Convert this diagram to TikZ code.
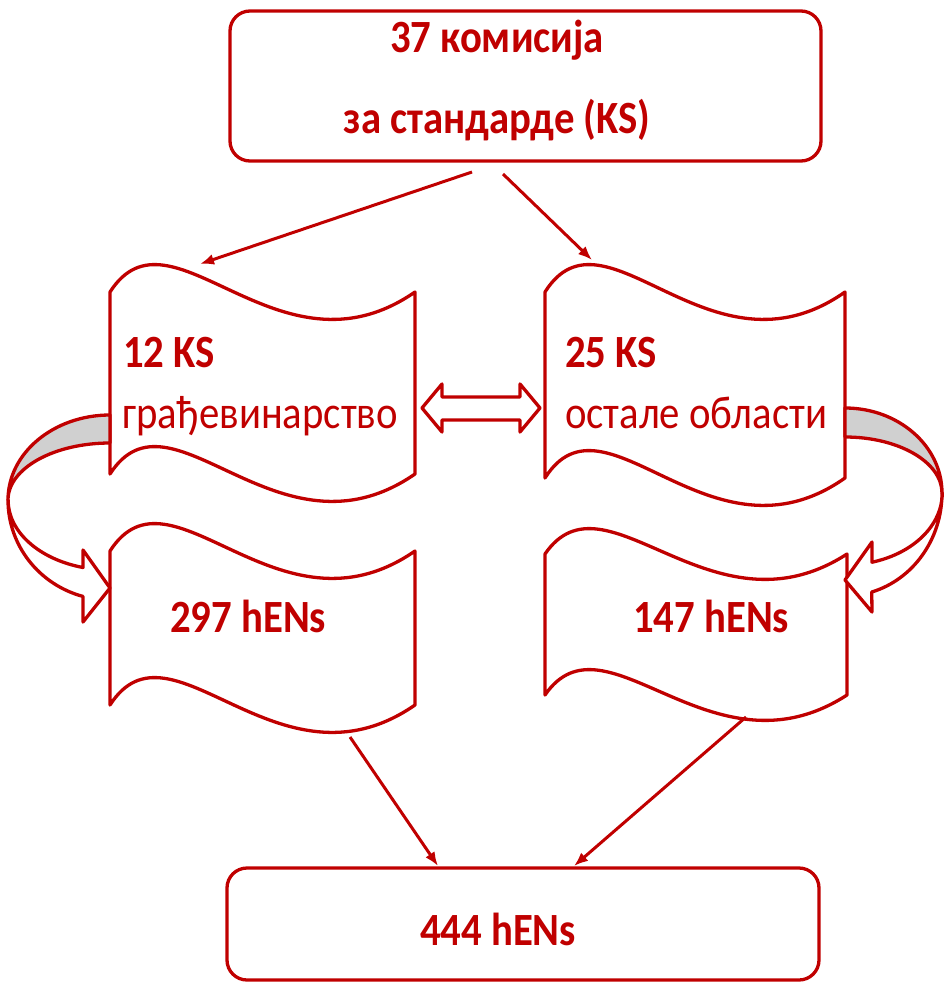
\documentclass[tikz,border=0pt]{standalone}
\usepackage{fontspec}
\setmainfont{Carlito}
\usetikzlibrary{arrows.meta}
\definecolor{dred}{RGB}{192,0,0}
\definecolor{bandgray}{RGB}{208,208,208}
\newcommand\wavepath[5]{%
  \draw[shapeline, fill=white] (#1,#3)
    .. controls ({#1+0.2*(#2-#1)},{#3-#5}) and ({#1+0.55*(#2-#1)},{#3+#5}) .. (#2,#3)
    -- (#2,#4)
    .. controls ({#1+0.55*(#2-#1)},{#4+#5}) and ({#1+0.2*(#2-#1)},{#4-#5}) .. (#1,#4)
    -- cycle;}
\newcommand\tallt[1]{\scalebox{0.97}[1.1]{#1}}
\begin{document}
\begin{tikzpicture}[x=1pt,y=-1pt,
  shapeline/.style={draw=dred, line width=3.3pt, line join=round},
  conn/.style={draw=dred, line width=3pt, -{Latex[length=14pt,width=11pt]}},
  lblb/.style={text=dred, font=\fontsize{42}{50}\selectfont\bfseries, inner sep=0pt},
  lblr/.style={text=dred, font=\fontsize{42}{50}\selectfont, inner sep=0pt},
  boxstyle/.style={shapeline, rounded corners=20pt, inner sep=0pt, fill=white}]
\useasboundingbox (0,0) rectangle (945,983);

% top and bottom boxes
\node[boxstyle, minimum width=591pt, minimum height=150pt] (top) at (525.5,86) {};
\node[boxstyle, minimum width=592pt, minimum height=112pt] (bot) at (523,924) {};

% wave shapes
\wavepath{110}{415}{292}{474}{95}
\wavepath{545}{845}{292}{478}{95}
\wavepath{110}{415}{551}{705}{95}
\wavepath{545}{847}{554}{695}{88}

% left curved arrow
\draw[shapeline, fill=bandgray] (110,415) arc[start angle=-90, end angle=-180, x radius=102, y radius=85]
   arc[start angle=180, end angle=270, x radius=102, y radius=57] -- cycle;
\draw[shapeline, fill=white] (8,500) arc[start angle=180, end angle=105.4, x radius=102, y radius=100]
   -- (83,622) -- (110,588) -- (83,550) -- (83,567.5)
   arc[start angle=105.4, end angle=180, x radius=102, y radius=70] -- cycle;

% right curved arrow
\draw[shapeline, fill=bandgray] (845,408) arc[start angle=-90, end angle=0, x radius=97, y radius=85]
   arc[start angle=0, end angle=-90, x radius=97, y radius=56] -- cycle;
\draw[shapeline, fill=white] (942,493) arc[start angle=0, end angle=74, x radius=97, y radius=103]
   -- (872,612) -- (845,580) -- (872,542) -- (872,562.2)
   arc[start angle=74, end angle=0, x radius=97, y radius=72] -- cycle;

% double arrow
\draw[shapeline, fill=white] (422,408) -- (442,384) -- (442,397) -- (520,397) -- (520,384)
   -- (540,408) -- (520,432) -- (520,420) -- (442,420) -- (442,432) -- cycle;

% connectors
\coordinate (c1s) at (472,172); \coordinate (c1e) at (200,264);
\coordinate (c2s) at (503,174); \coordinate (c2e) at (592,260);
\coordinate (c3s) at (350,737); \coordinate (c3e) at (438,866);
\coordinate (c4s) at (746,717); \coordinate (c4e) at (574,866);
\draw[conn] (c1s) -- (c1e);
\draw[conn] (c2s) -- (c2e);
\draw[conn] (c3s) -- (c3e);
\draw[conn] (c4s) -- (c4e);

% texts
\node[lblb, anchor=base] (t1) at (497,52) {\tallt{37 комисија}};
\node[lblb, anchor=base] (t2) at (497,133) {\tallt{за стандарде (KS)}};
\node[lblb, anchor=base west] (t3) at (123,367) {\tallt{12 KS}};
\node[lblr, anchor=base west] (t4) at (122,428) {\tallt{грађевинарство}};
\node[lblb, anchor=base west] (t5) at (565,367) {\tallt{25 KS}};
\node[lblr, anchor=base west] (t6) at (565,428) {\tallt{остале области}};
\node[lblb, anchor=base west] (t7) at (170,632) {\tallt{297 hENs}};
\node[lblb, anchor=base west] (t8) at (633,632) {\tallt{147 hENs}};
\node[lblb, anchor=base] (t9) at (498,945) {\tallt{444 hENs}};
\end{tikzpicture}
\end{document}
